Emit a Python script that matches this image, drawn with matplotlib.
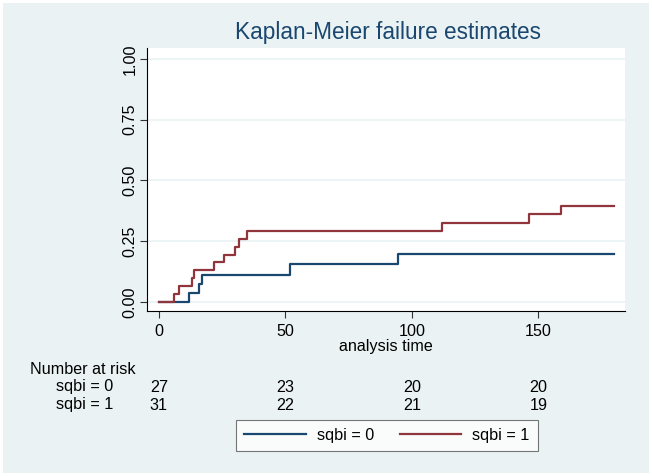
import matplotlib
matplotlib.use("Agg")
import matplotlib.pyplot as plt
import matplotlib.transforms as mtransforms
from matplotlib.patches import Rectangle
from matplotlib.lines import Line2D

plt.rcParams['font.family'] = ['Liberation Sans', 'DejaVu Sans']

# ---- data ----
time0 = [0, 11.9, 15.8, 16.9, 52.0, 94.3, 180.0]
fail0 = [0.0, 0.037, 0.074, 0.111, 0.155, 0.195, 0.195]
time1 = [0, 5.9, 8.0, 12.9, 13.8, 21.7, 25.8, 29.9, 31.7, 34.9, 112.0, 146.2, 159.0, 180.0]
fail1 = [0.0, 0.033, 0.065, 0.097, 0.129, 0.162, 0.194, 0.226, 0.258, 0.290, 0.325, 0.360, 0.394, 0.394]
group_labels = ["sqbi = 0", "sqbi = 1"]
risk_times = [0, 50, 100, 150]
risk0 = [27, 23, 20, 20]
risk1 = [31, 22, 21, 19]
xticks = [0, 50, 100, 150]
yticks = [0.0, 0.25, 0.5, 0.75, 1.0]
title = "Kaplan-Meier failure estimates"
xlabel = "analysis time"

W, H = 652, 476
bg = "#EAF2F3"
blue = "#1A476F"
red = "#90353B"
txt = "#000000"
fs = 11.6

fig = plt.figure(figsize=(W / 100, H / 100), dpi=100, facecolor="white")
# grey graph region with small white margin
fig.patches.append(Rectangle((3 / W, 1 - 473 / H), 646 / W, 470 / H,
                             transform=fig.transFigure, facecolor=bg,
                             edgecolor="none", zorder=-10))

def px(x0, y0, x1, y1):
    return [x0 / W, 1 - y1 / H, (x1 - x0) / W, (y1 - y0) / H]

ax = fig.add_axes(px(147, 48, 625, 311))
ax.set_zorder(1)
ax.set_facecolor("white")
ax.set_xlim(-4.7, 184.2)
ax.set_ylim(-0.038, 1.045)

for y in yticks:
    ax.axhline(y, color=bg, lw=1.2, zorder=1)

ax.step(time0, fail0, where="post", color=blue, lw=1.6, zorder=3)
ax.step(time1, fail1, where="post", color=red, lw=1.6, zorder=4)

for s in ["top", "right"]:
    ax.spines[s].set_visible(False)
for s in ["left", "bottom"]:
    ax.spines[s].set_color("#000000")
    ax.spines[s].set_linewidth(0.8)

ax.set_xticks(xticks)
ax.set_xticklabels([str(v) for v in xticks])
ax.set_yticks(yticks)
ax.set_yticklabels([f"{v:.2f}" for v in yticks], rotation=90, va="center")
ax.tick_params(axis="both", direction="out", length=5, width=0.8, color="#333333",
               labelsize=fs, labelcolor=txt)
ax.tick_params(axis="y", pad=2)
ax.tick_params(axis="x", pad=4)

ax.set_xlabel(xlabel, fontsize=fs, color=txt, va="center")
ax.xaxis.set_label_coords(0.5, (311 - 347) / 263)

fig.text(388 / W, 1 - 33 / H, title, ha="center", va="center",
         fontsize=16.3, color=blue)

# number-at-risk table
tr = mtransforms.blended_transform_factory(ax.transData, fig.transFigure)
fig.text(30 / W, 1 - 369 / H, "Number at risk", ha="left", va="center", fontsize=fs)
for lab, row, ypx in [(group_labels[0], risk0, 387), (group_labels[1], risk1, 405)]:
    fig.text(113 / W, 1 - ypx / H, lab, ha="right", va="center", fontsize=fs)
    for t, n in zip(risk_times, row):
        fig.text(t, 1 - ypx / H, str(n), transform=tr, ha="center", va="center", fontsize=fs)

handles = [Line2D([], [], color=blue, lw=1.6), Line2D([], [], color=red, lw=1.6)]
leg = fig.legend(handles, group_labels, loc="center", bbox_to_anchor=(387 / W, 1 - 435.5 / H),
                 ncol=2, fontsize=fs, frameon=True, fancybox=False, handlelength=3.8,
                 handletextpad=0.7, columnspacing=1.6, borderpad=0.5)
leg.get_frame().set_edgecolor("#555555")
leg.get_frame().set_linewidth(0.8)
leg.get_frame().set_facecolor("white")

fig.savefig("out.png", dpi=100, facecolor="white")
